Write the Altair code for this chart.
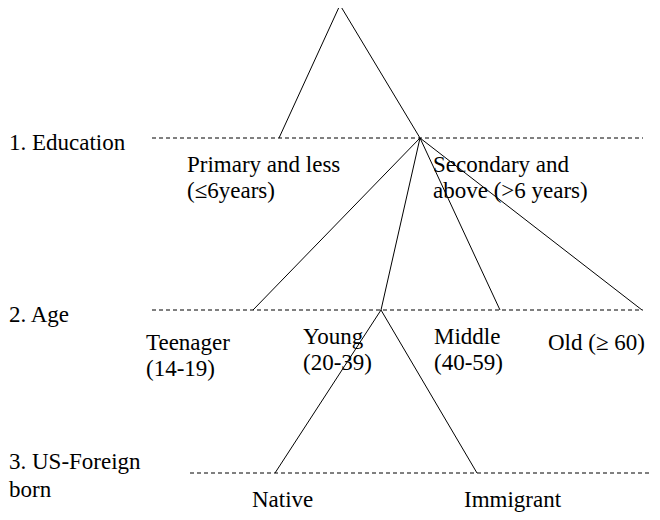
import altair as alt
import pandas as pd

# Tree edges (parent -> child), positions
edge_x1 = [340, 340, 420, 420, 420, 420, 381, 381]
edge_y1 = [5, 5, 138, 138, 138, 138, 310, 310]
edge_x2 = [279, 420, 253, 381, 500, 642, 275, 477]
edge_y2 = [138, 138, 310, 310, 310, 310, 473, 473]

# Level separator (dashed) lines
level_names = ["Education", "Age", "US-Foreign born"]
level_y = [138, 310, 473]
level_x_start = [152, 152, 190]
level_x_end = [643, 643, 660]

# Text labels
label_text = [
    "1. Education", "Primary and less", "(\u22646years)", "Secondary and", "above (>6 years)",
    "2. Age", "Teenager", "(14-19)", "Young", " (20-39)", "Middle", "(40-59)", "Old (\u2265 60)",
    "3. US-Foreign", "born", "Native", "Immigrant",
]
label_x = [9, 187, 187, 433, 433,
           9, 146, 146, 303, 303, 434, 434, 548,
           9, 9, 252, 464]
label_y = [150, 172, 198, 172, 198,
           322, 350, 376, 344, 370, 344, 370, 350,
           469, 497, 507, 507]

edges = pd.DataFrame({"x": edge_x1, "y": edge_y1, "x2": edge_x2, "y2": edge_y2})
levels = pd.DataFrame({"level": level_names, "y": level_y, "x": level_x_start, "x2": level_x_end})
labels = pd.DataFrame({"text": label_text, "x": label_x, "y": label_y})

W, H = 644, 504
xs = alt.Scale(domain=[8, 8 + W], nice=False, zero=False)
ys = alt.Scale(domain=[8 + H, 8], nice=False, zero=False)

edge_layer = alt.Chart(edges).mark_rule(color="black", strokeWidth=1).encode(
    x=alt.X("x:Q", scale=xs, axis=None),
    y=alt.Y("y:Q", scale=ys, axis=None),
    x2="x2:Q",
    y2="y2:Q",
)

level_layer = alt.Chart(levels).mark_rule(color="black", strokeWidth=1, strokeDash=[4, 3]).encode(
    x=alt.X("x:Q", scale=xs, axis=None),
    x2="x2:Q",
    y=alt.Y("y:Q", scale=ys, axis=None),
)

text_layer = alt.Chart(labels).mark_text(
    align="left", baseline="alphabetic",
    font="'Liberation Serif', 'Times New Roman', Times, serif",
    fontSize=23, color="black"
).encode(
    x=alt.X("x:Q", scale=xs, axis=None),
    y=alt.Y("y:Q", scale=ys, axis=None),
    text="text:N",
)

chart = (
    alt.layer(level_layer, edge_layer, text_layer)
    .properties(width=W, height=H, autosize=alt.AutoSizeParams(type="none"), padding=0)
    .configure_view(stroke=None)
)

chart.save("out.html", embed_options={"renderer": "svg", "actions": False})
